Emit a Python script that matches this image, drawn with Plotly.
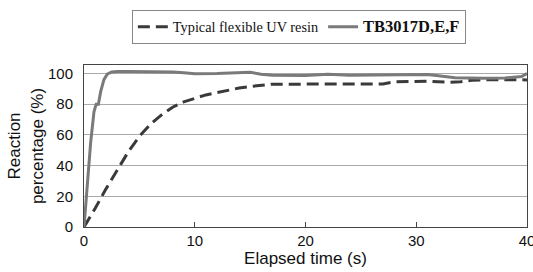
import plotly.graph_objects as go

# Typical flexible UV resin (dashed)
t_typ = [0, 1, 2, 3, 4, 5, 6, 7, 8, 9, 10, 11, 12, 13, 14, 15, 16, 17, 18, 20, 22, 24, 26, 27, 28, 30, 31, 32, 33, 34, 35, 37, 40]
r_typ = [0, 12, 25, 37, 49, 59, 67, 73, 78, 81.5, 84, 86, 87.5, 89, 90.5, 91.5, 92.3, 93, 93, 93, 93.2, 93.2, 93, 93.2, 94.5, 95, 95, 94.6, 94.3, 94.6, 95.6, 96, 95.8]

# TB3017D,E,F (solid)
t_tb = [0, 0.3, 0.6, 0.9, 1.1, 1.3, 1.5, 1.8, 2.1, 2.5, 3, 4, 5, 6, 8, 9, 10, 12, 14, 15, 16, 17, 20, 22, 24, 26, 28, 30, 31, 32, 33.5, 36, 38, 39.5, 40]
r_tb = [0, 30, 55, 75, 80, 80, 88, 96, 99.5, 101, 101.3, 101.3, 101.3, 101.2, 101, 100.5, 99.8, 100, 100.5, 100.8, 99.5, 98.8, 98.6, 99.4, 98.8, 99, 99.3, 99.5, 99.3, 98.5, 97.2, 96.8, 97, 98, 100]

fig = go.Figure()
fig.add_trace(go.Scatter(x=t_typ, y=r_typ, mode="lines", name="Typical flexible UV resin",
                         line=dict(color="#3a3a3a", width=3, dash="12px,6px")))
fig.add_trace(go.Scatter(x=t_tb, y=r_tb, mode="lines",
                         name="<span style='font-size:16.5px'><b>TB3017D,E,F</b></span>",
                         line=dict(color="#7a7a7a", width=3)))

fig.update_layout(
    width=533, height=272,
    margin=dict(l=84, r=6, t=65, b=45),
    paper_bgcolor="white", plot_bgcolor="white",
    font=dict(family="Liberation Sans, Arial", color="#111"),
    legend=dict(orientation="h", x=0.485, xanchor="center", y=1.34, yanchor="top",
                bordercolor="#888", borderwidth=1,
                font=dict(family="Liberation Serif, Times New Roman", size=14.3, color="#111"),
                itemwidth=30, tracegroupgap=0),
    xaxis=dict(range=[0, 40], tickvals=[0, 10, 20, 30, 40], ticks="inside", ticklen=5,
               tickcolor="#444", showgrid=False, zeroline=False, automargin=False,
               ticklabeloverflow="allow",
               showline=True, linecolor="#444", linewidth=1, mirror=True,
               tickfont=dict(size=15), title=dict(text="Elapsed time (s)", font=dict(size=17), standoff=0)),
    yaxis=dict(range=[0, 105.5], tickvals=[0, 20, 40, 60, 80, 100],
               ticks="outside", ticklen=7, tickcolor="rgba(0,0,0,0)",
               showgrid=True, gridcolor="#aaaaaa", gridwidth=1, zeroline=False, automargin=False,
               showline=True, linecolor="#444", linewidth=1, mirror=True,
               tickfont=dict(size=15),
               title=dict(text="Reaction<br>percentage (%)", font=dict(size=17), standoff=0)),
)

fig.write_html("out.html", config={"displayModeBar": False},
               post_script="document.body.style.margin='0';document.body.style.overflow='hidden';")
